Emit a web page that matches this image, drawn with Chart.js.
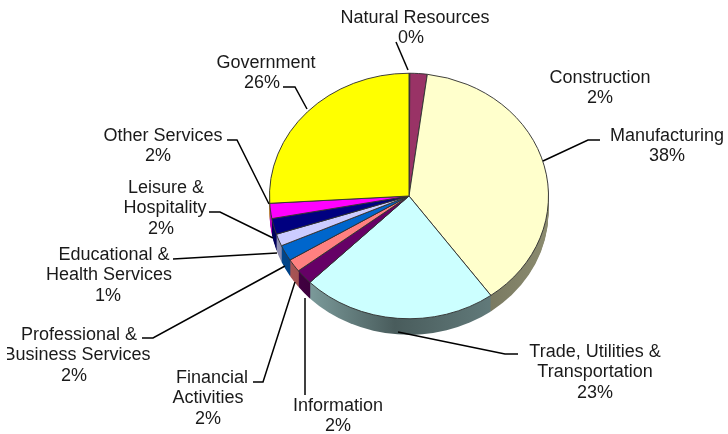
<!DOCTYPE html>
<html>
<head>
<meta charset="utf-8">
<style>
    html, body { margin: 0; padding: 0; background: #fff; }
    canvas { display: block; }
</style>
<script src="https://cdn.jsdelivr.net/npm/chart.js@4"></script>
</head>
<body>
<canvas id="sectorChart" width="728" height="434"></canvas>
<script>
const categories = [
    ['Natural Resources'],
    ['Construction'],
    ['Manufacturing'],
    ['Trade, Utilities &', 'Transportation'],
    ['Information'],
    ['Financial', 'Activities'],
    ['Professional &', 'Business Services'],
    ['Educational &', 'Health Services'],
    ['Leisure &', 'Hospitality'],
    ['Other Services'],
    ['Government'],
];
// slice sizes, the printed labels are rounded
const sliceValues = [0.1, 2, 38, 22.6, 2, 1.7, 2.1, 1.6, 2.1, 2, 26];
const percentLabels = ['0%', '2%', '38%', '23%', '2%', '2%', '2%', '1%', '2%', '2%', '26%'];
const sliceColors = ['#9999FF', '#993366', '#FFFFCC', '#CCFFFF', '#660066', '#FF8080', '#0066CC', '#CCCCFF', '#000080', '#FF00FF', '#FFFF00'];

// label placement: one centre x per text line, and the y of the first line
const labelX = [
    [415, 411], [600, 600], [667, 667], [595, 595, 595], [338, 338], [212, 208, 208],
    [79, 77, 74], [114, 109, 108], [166, 165, 161], [163, 158], [266, 262],
];
const labelY = [18, 78, 136, 352, 406, 378, 335, 255, 188, 136, 63];
const leaderLines = [
    [[396, 42], [408, 70]],
    null,
    [[600, 140], [588, 140], [543, 161]],
    [[518, 354], [505, 354], [398, 332]],
    [[305, 395], [305, 298]],
    [[253, 382], [263, 382], [295, 282]],
    [[142, 338], [153, 338], [285, 266]],
    [[173, 259], [277, 253]],
    [[209, 212], [220, 212], [273, 238]],
    [[227, 140], [237, 140], [269, 204]],
    [[283, 87], [295, 87], [307, 109]],
];

const squash = 0.88;
const depth = 16;

function shade(hex, f) {
    const n = parseInt(hex.slice(1), 16);
    return `rgb(${((n >> 16) & 255) * f}, ${((n >> 8) & 255) * f}, ${(n & 255) * f})`;
}

const pie3dPlugin = {
    id: 'pie3d',
    beforeDatasetsDraw(chart) {
        const ctx = chart.ctx;
        const arcs = chart.getDatasetMeta(0).data;
        const cy = arcs[0].y;

        // side wall of the pie, stacked copies of each slice shifted down
        for (let d = depth; d > 0; d--) {
            arcs.forEach((arc, i) => {
                const wall = ctx.createLinearGradient(arc.x - 140, 0, arc.x + 140, 0);
                wall.addColorStop(0, shade(sliceColors[i], 0.72));
                wall.addColorStop(0.45, shade(sliceColors[i], 0.36));
                wall.addColorStop(1, shade(sliceColors[i], 0.55));
                ctx.save();
                ctx.translate(0, cy + d);
                ctx.scale(1, squash);
                ctx.beginPath();
                ctx.moveTo(arc.x, 0);
                ctx.arc(arc.x, 0, arc.outerRadius, arc.startAngle, arc.endAngle);
                ctx.closePath();
                ctx.fillStyle = wall;
                ctx.fill();
                ctx.restore();
            });
        }

        ctx.save();
        ctx.translate(0, cy);
        ctx.scale(1, squash);
        ctx.translate(0, -cy);
    },
    afterDatasetsDraw(chart) {
        const ctx = chart.ctx;
        ctx.restore();

        ctx.strokeStyle = '#000';
        ctx.lineWidth = 1.5;
        leaderLines.forEach((pts) => {
            if (!pts) {
                return;
            }
            ctx.beginPath();
            pts.forEach((p, i) => (i ? ctx.lineTo(p[0], p[1]) : ctx.moveTo(p[0], p[1])));
            ctx.stroke();
        });

        // the source image cuts the text off on the left
        ctx.save();
        ctx.beginPath();
        ctx.rect(7, 0, 721, 434);
        ctx.clip();
        ctx.font = '18px "Liberation Sans"';
        ctx.fillStyle = '#1a1a1a';
        ctx.textAlign = 'center';
        ctx.textBaseline = 'middle';
        categories.forEach((lines, i) => {
            [...lines, percentLabels[i]].forEach((text, j) => {
                ctx.fillText(text, labelX[i][j], labelY[i] + j * 20.5);
            });
        });
        ctx.restore();
    },
};

new Chart(document.getElementById('sectorChart').getContext('2d'), {
    type: 'pie',
    data: {
        labels: categories,
        datasets: [{
            data: sliceValues,
            backgroundColor: sliceColors,
            borderColor: '#333',
            borderWidth: 1,
        }],
    },
    options: {
        responsive: false,
        animation: false,
        layout: { padding: { left: 269, right: 179, top: 56, bottom: 98 } },
        plugins: {
            legend: { display: false },
            tooltip: { enabled: false },
        },
    },
    plugins: [pie3dPlugin],
});
</script>
</body>
</html>
